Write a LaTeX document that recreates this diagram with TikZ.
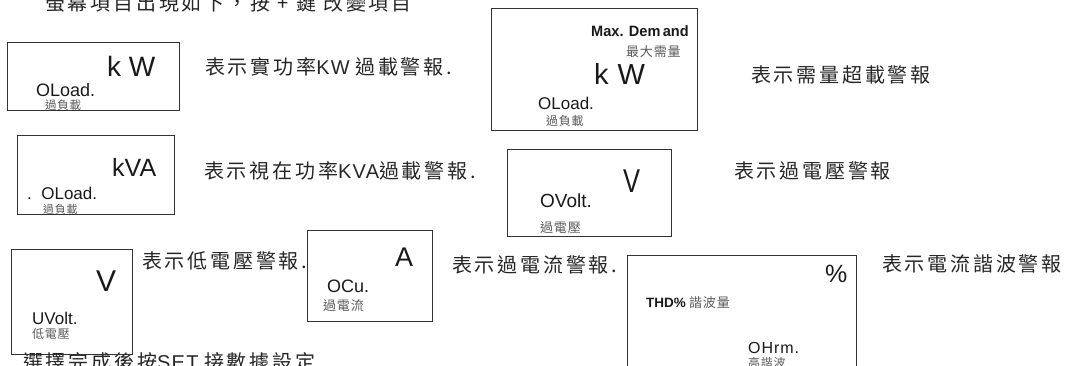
\documentclass[tikz,border=0pt]{standalone}
\usepackage{fontspec}
\setmainfont{Liberation Sans}
\newfontfamily\cjk[LetterSpace=14]{Noto Sans CJK TC}
\newfontfamily\cjks[LetterSpace=6]{Noto Sans CJK TC}
\newfontfamily\lat[LetterSpace=6]{Liberation Sans}
\newcommand\fs[1]{\fontsize{#1}{#1}\selectfont}
\tikzset{
  box/.style={draw=black!80, line width=0.8pt, inner sep=0pt, anchor=north west},
  lab/.style={anchor=base west, inner sep=0pt, text=black!85, font=\fs{20}},
  txt/.style={anchor=base west, inner sep=0pt, text=black!90},
  sub/.style={anchor=base west, inner sep=0pt, text=black!65},
}
\begin{document}
\begin{tikzpicture}[x=1pt,y=-1pt]
\useasboundingbox (0,0) rectangle (1066,366);
\clip (0,0) rectangle (1066,366);

% header and footer lines
\node[lab] (top) at (45,10.6) {{\cjk 螢幕項目出現如下，按 + 鍵 改變項目}};
\node[lab] (bot) at (23,369.6) {{\cjk 選擇完成後按}{\lat SET} {\cjk 接數據設定}};

% box 1
\node[box, minimum width=172pt, minimum height=68pt] (b1) at (7,42) {};
\node[txt, font=\fs{28}] (b1u) at (107,77) {k W};
\node[txt, font=\fs{18}] (b1o) at (36,96.5) {OLoad.};
\node[sub, font=\fs{11.5}] (b1c) at (45,110) {\cjks 過負載};
\node[lab] (t1) at (205,74.6) {{\cjk 表示實功率}{\lat KW} {\cjk 過載警報.}};

% box 2
\node[box, minimum width=206pt, minimum height=122pt] (b2) at (491,8) {};
\node[txt, font=\bfseries\fs{15}] (b2m) at (591,37) {\scalebox{0.97}[1]{Max. Dem\,and}};
\node[sub, font=\fs{13}] (b2md) at (626,56.5) {\cjks 最大需量};
\node[txt, font=\fs{29}] (b2u) at (594,85) {k\hspace{9pt}W};
\node[txt, font=\fs{17}] (b2o) at (538,110) {OLoad.};
\node[sub, font=\fs{12}] (b2c) at (546,125.5) {\cjks 過負載};
\node[lab] (t2) at (751,82.6) {\cjk 表示需量超載警報};

% box 3
\node[box, minimum width=157pt, minimum height=79pt] (b3) at (17,135) {};
\node[txt, font=\fs{25}] (b3u) at (112,177) {kVA};
\node[txt, font=\fs{17}] (b3o) at (27,200) {.\ \ OLoad.};
\node[sub, font=\fs{11}] (b3c) at (43,214) {\cjks 過負載};
\node[lab] (t3) at (204,178.6) {{\cjk 表示視在功率}{\lat KVA}{\cjk 過載警報.}};

% box 4
\node[box, minimum width=164pt, minimum height=87pt] (b4) at (507,149) {};
\node[txt, font=\fs{30}] (b4u) at (623,193) {\scalebox{0.85}[1.1]{V}};
\node[txt, font=\fs{19}] (b4o) at (540,208) {OVolt.};
\node[sub, font=\fs{13}] (b4c) at (540,233) {\cjks 過電壓};
\node[lab] (t4) at (734,178.6) {\cjk 表示過電壓警報};

% box 5
\node[box, minimum width=121pt, minimum height=105pt] (b5) at (11,249) {};
\node[txt, font=\fs{30}] (b5u) at (96,291) {V};
\node[txt, font=\fs{17}] (b5o) at (32,324) {UVolt.};
\node[sub, font=\fs{12}] (b5c) at (32,338.5) {\cjks 低電壓};
\node[lab] (t5) at (142,268.6) {\cjk 表示低電壓警報.};

% box 6
\node[box, minimum width=125pt, minimum height=91pt] (b6) at (307,230) {};
\node[txt, font=\fs{27}] (b6u) at (395,266) {A};
\node[txt, font=\fs{18}] (b6o) at (327,293) {OCu.};
\node[sub, font=\fs{13}] (b6c) at (323,310) {\cjks 過電流};
\node[lab] (t6) at (452,272.6) {\cjk 表示過電流警報.};

% box 7
\node[box, minimum width=229pt, minimum height=130pt] (b7) at (627,255) {};
\node[txt, font=\fs{25}] (b7u) at (825,283) {\%};
\node[txt, font=\bfseries\fs{13.5}] (b7t) at (646,307) {THD\%};
\node[sub, font=\fs{13}] (b7tc) at (689,307.5) {\cjks 諧波量};
\node[txt, font=\fs{16}] (b7o) at (748,353) {\lat OHrm.};
\node[sub, font=\fs{12}] (b7c) at (748,367) {\cjks 高諧波};
\node[lab] (t7) at (882,271.6) {\cjk 表示電流諧波警報};
\end{tikzpicture}
\end{document}
